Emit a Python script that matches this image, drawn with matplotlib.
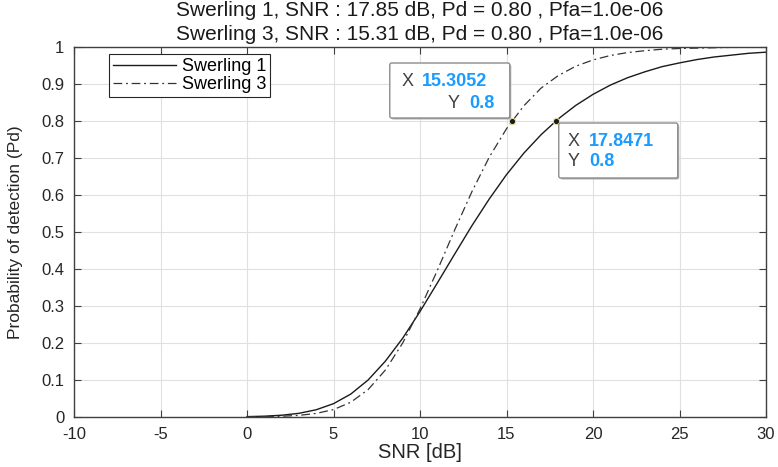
import matplotlib
matplotlib.use("Agg")
import matplotlib.pyplot as plt
from matplotlib.patches import FancyBboxPatch

plt.rcParams['font.family'] = ['Liberation Sans', 'DejaVu Sans']
plt.rcParams['axes.unicode_minus'] = False

# SNR grid (dB) and detection probabilities
snr_db = [0, 1, 2, 3, 4, 5, 6, 7, 8, 9, 10, 11, 12, 13, 14, 15,
          16, 17, 18, 19, 20, 21, 22, 23, 24, 25, 26, 27, 28, 29, 30]
pd_sw1 = [0.001, 0.0022, 0.0048, 0.0099, 0.0196, 0.036, 0.062, 0.100,
          0.151, 0.213, 0.285, 0.362, 0.440, 0.517, 0.589, 0.655,
          0.713, 0.763, 0.806, 0.842, 0.872, 0.897, 0.917, 0.933,
          0.947, 0.957, 0.966, 0.973, 0.978, 0.983, 0.986]
pd_sw3 = [0.0004, 0.0009, 0.002, 0.0044, 0.0097, 0.020, 0.040, 0.074,
          0.127, 0.200, 0.292, 0.396, 0.505, 0.609, 0.702, 0.779,
          0.841, 0.889, 0.923, 0.948, 0.965, 0.977, 0.985, 0.990,
          0.994, 0.996, 0.997, 0.998, 0.999, 0.999, 1.000]

# data tips
tip_x = [15.3052, 17.8471]
tip_y = [0.8, 0.8]
tip_xlab = ['15.3052', '17.8471']
tip_ylab = ['0.8', '0.8']

fig = plt.figure(figsize=(7.78, 4.67), dpi=100)
ax = fig.add_axes([74 / 778, 50 / 467, 692 / 778, 370 / 467])

ax.plot(snr_db, pd_sw1, color='#1a1a1a', lw=1.0, label='Swerling 1')
ax.plot(snr_db, pd_sw3, color='#333333', lw=0.9, dashes=(7, 3, 1.5, 3), label='Swerling 3')

ax.set_xlim(-10, 30)
ax.set_ylim(0, 1)
ax.set_xticks(range(-10, 31, 5))
ax.set_yticks([i / 10 for i in range(11)])
ax.set_yticklabels(['0', '0.1', '0.2', '0.3', '0.4', '0.5', '0.6', '0.7', '0.8', '0.9', '1'])
ax.grid(True, color='#e0e0e0', lw=0.8)
ax.set_axisbelow(True)
ax.tick_params(direction='in', top=True, right=True, length=5, width=0.8,
               color='#404040', labelsize=12, labelcolor='#262626')
ax.tick_params(axis='x', pad=7)
ax.tick_params(axis='y', pad=7)
for s in ax.spines.values():
    s.set_color('#404040')
    s.set_linewidth(1.0)

ax.set_xlabel('SNR [dB]', fontsize=14.5, color='#262626', labelpad=1)
ax.set_ylabel('Probability of detection (Pd)', fontsize=12.5, color='#262626', labelpad=13)

fig.text(420 / 778, 1 - 16 / 467, 'Swerling 1, SNR : 17.85 dB, Pd = 0.80 , Pfa=1.0e-06',
         ha='center', va='baseline', fontsize=15, color='#1a1a1a')
fig.text(420 / 778, 1 - 40 / 467, 'Swerling 3, SNR : 15.31 dB, Pd = 0.80 , Pfa=1.0e-06',
         ha='center', va='baseline', fontsize=15, color='#1a1a1a')

leg = ax.legend(loc='upper left', bbox_to_anchor=((109 - 74) / 692, (417 - 54) / 370),
                borderaxespad=0, fontsize=13, handlelength=3.5, handletextpad=0.3,
                labelspacing=0.05, borderpad=0.22, fancybox=False, framealpha=1)
leg.get_frame().set_edgecolor('#262626')
leg.get_frame().set_linewidth(0.8)

ax.plot(tip_x, tip_y, 'o', ms=4.5, mfc='#1a1a1a', mec='#e6dc9a', mew=0.8, zorder=5)

# data tip boxes, positioned in pixels relative to the marked points
fig.canvas.draw()
boxes = [(-122, 3, 120, 55), (3, -57, 119, 55)]
rows = [[(-110, -90, 39), (-64, -43, 18)], [(12, 33, -20), (12, 33, -41)]]
for i in range(2):
    px, py = ax.transData.transform((tip_x[i], tip_y[i]))
    bx, by, bw, bh = boxes[i]
    shadow = FancyBboxPatch((px + bx + 1.5, py + by - 1.5), bw, bh,
                            boxstyle='round,pad=0,rounding_size=2', transform=None,
                            fc='#b0b0b0', ec='none', zorder=6)
    box = FancyBboxPatch((px + bx, py + by), bw, bh,
                         boxstyle='round,pad=0,rounding_size=2', transform=None,
                         fc='white', ec='#8c8c8c', lw=1.0, zorder=7)
    fig.patches.extend([shadow, box])
    labs = [('X', tip_xlab[i]), ('Y', tip_ylab[i])]
    for (lx, vx, dy), (lab, val) in zip(rows[i], labs):
        fig.text(px + lx, py + dy, lab, transform=None, va='center', ha='left',
                 fontsize=13, color='#404040', zorder=8)
        fig.text(px + vx, py + dy, val, transform=None, va='center', ha='left',
                 fontsize=13, color='#1a9bff', fontweight='bold', zorder=8)

fig.savefig('out.png', dpi=100)
